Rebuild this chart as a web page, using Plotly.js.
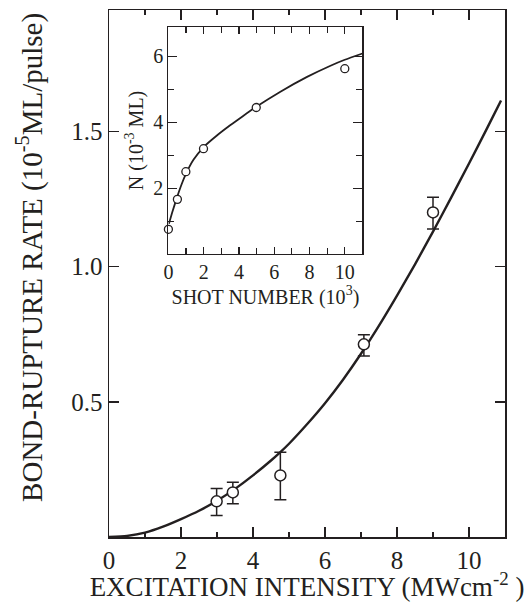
<!DOCTYPE html>
<html>
<head>
<meta charset="utf-8">
<script src="https://cdn.plot.ly/plotly-3.0.1.min.js"></script>
<style>
html,body{margin:0;padding:0;background:#fff;}
#chart{width:532px;height:602px;}
</style>
</head>
<body>
<div id="chart"></div>
<script>
// Main panel: measured points (excitation intensity, MW/cm^2 ; rate, 1e-5 ML/pulse)
var intensity = [2.99, 3.44, 4.76, 7.08, 9.00];
var rate = [0.132, 0.165, 0.228, 0.713, 1.201];
var rateErrPlus = [0.047, 0.038, 0.086, 0.035, 0.056];
var rateErrMinus = [0.052, 0.042, 0.090, 0.043, 0.061];

// Main panel: fitted curve
var fitIntensity = [0, 0.5, 1.0, 1.5, 2.0, 2.5, 3.0, 3.5, 4.0, 4.5, 4.76, 5.0, 5.5, 6.0, 6.5, 7.0, 7.5, 8.0, 8.5, 9.0, 9.5, 10.0, 10.5, 10.89];
var fitRate = [0, 0.004, 0.016, 0.038, 0.066, 0.097, 0.134, 0.178, 0.228, 0.283, 0.314, 0.345, 0.417, 0.495, 0.582, 0.678, 0.782, 0.893, 1.009, 1.130, 1.255, 1.382, 1.512, 1.615];

// Inset: N (1e-3 ML) vs shot number (1e3)
var shots = [0, 0.51, 0.99, 1.99, 4.98, 10.0];
var coverage = [0.75, 1.66, 2.50, 3.20, 4.45, 5.63];
var fitShots = [0.03, 0.25, 0.5, 0.75, 1.0, 1.42, 2.0, 2.75, 3.5, 4.2, 4.98, 6.35, 7.86, 9.19, 10.0, 11.0];
var fitCoverage = [0.92, 1.32, 1.74, 2.12, 2.44, 2.86, 3.25, 3.60, 3.91, 4.18, 4.47, 4.93, 5.38, 5.72, 5.90, 6.09];

// Texts
var xTitle = 'EXCITATION INTENSITY (MWcm<sup>-2</sup> )';
var yTitle = 'BOND-RUPTURE RATE (10<sup>-5</sup>ML/pulse)';
var insetXTitle = 'SHOT NUMBER (10<sup>3</sup>)';
var insetYTitle = 'N (10<sup>-3</sup> ML)';

var ink = '#231f20';
var fontFam = 'Liberation Serif, Times New Roman, serif';

var traces = [
  {x: fitIntensity, y: fitRate, xaxis: 'x', yaxis: 'y', mode: 'lines',
   line: {color: ink, width: 2.4, shape: 'spline', smoothing: 0.6}, hoverinfo: 'skip', showlegend: false},
  {x: intensity, y: rate, xaxis: 'x', yaxis: 'y', mode: 'markers',
   marker: {symbol: 'circle', size: 11, color: '#fff', line: {color: ink, width: 1.5}},
   error_y: {type: 'data', symmetric: false, array: rateErrPlus, arrayminus: rateErrMinus,
             color: ink, thickness: 1.5, width: 6}, showlegend: false},
  {x: fitShots, y: fitCoverage, xaxis: 'x2', yaxis: 'y2', mode: 'lines',
   line: {color: ink, width: 1.8, shape: 'spline', smoothing: 0.6}, hoverinfo: 'skip', showlegend: false},
  {x: shots, y: coverage, xaxis: 'x2', yaxis: 'y2', mode: 'markers', cliponaxis: false,
   marker: {symbol: 'circle', size: 8, color: '#fff', line: {color: ink, width: 1.3}}, showlegend: false}
];

var layout = {
  width: 532, height: 602,
  margin: {l: 109, r: 27, t: 10, b: 65},
  paper_bgcolor: '#fff', plot_bgcolor: 'rgba(0,0,0,0)',
  font: {family: fontFam, color: ink, size: 24},
  xaxis: {
    domain: [0, 1], anchor: 'y', range: [0, 11],
    tickmode: 'linear', tick0: 0, dtick: 2,
    ticks: 'inside', ticklen: 10, tickwidth: 1.3, tickcolor: ink, mirror: 'ticks',
    minor: {dtick: 1, tick0: 0, ticks: 'inside', ticklen: 5, tickwidth: 1.3, tickcolor: ink},
    showline: true, linecolor: ink, linewidth: 1.5, showgrid: false, zeroline: false,
    tickfont: {size: 25, family: fontFam, color: ink},
    title: {text: xTitle, font: {size: 27, family: fontFam, color: ink}, standoff: 4}
  },
  yaxis: {
    domain: [0, 1], anchor: 'x', range: [0, 1.95],
    tickmode: 'linear', tick0: 0, dtick: 0.5, tickformat: '.1f', labelalias: {'0.0': ''},
    ticks: 'inside', ticklen: 10, tickwidth: 1.3, tickcolor: ink, mirror: 'ticks',
    showline: true, linecolor: ink, linewidth: 1.5, showgrid: false, zeroline: false,
    tickfont: {size: 25, family: fontFam, color: ink}
  },
  xaxis2: {
    domain: [0.150, 0.640], anchor: 'y2', range: [0, 11],
    tickmode: 'linear', tick0: 0, dtick: 2,
    ticks: 'inside', ticklen: 7, tickwidth: 1.1, tickcolor: ink, mirror: 'ticks',
    minor: {dtick: 1, tick0: 0, ticks: 'inside', ticklen: 6, tickwidth: 1.1, tickcolor: ink},
    showline: true, linecolor: ink, linewidth: 1.2, showgrid: false, zeroline: false,
    tickfont: {size: 20, family: fontFam, color: ink},
    title: {text: insetXTitle, font: {size: 20, family: fontFam, color: ink}, standoff: 0}
  },
  yaxis2: {
    domain: [0.537, 0.968], anchor: 'x2', range: [0, 6.9],
    tickmode: 'linear', tick0: 0, dtick: 2, labelalias: {'0': ''},
    ticks: 'inside', ticklen: 9, tickwidth: 1.1, tickcolor: ink, mirror: 'ticks',
    minor: {dtick: 1, tick0: 0, ticks: 'inside', ticklen: 6, tickwidth: 1.1, tickcolor: ink},
    showline: true, linecolor: ink, linewidth: 1.2, showgrid: false, zeroline: false,
    tickfont: {size: 20, family: fontFam, color: ink},
    title: {text: insetYTitle, font: {size: 20, family: fontFam, color: ink}, standoff: 4}
  },
  annotations: [
    {text: yTitle, xref: 'paper', yref: 'paper', x: -0.199, y: 0.53,
     xanchor: 'center', yanchor: 'middle', textangle: -90, showarrow: false,
     font: {size: 29, family: fontFam, color: ink}}
  ]
};

Plotly.newPlot('chart', traces, layout, {displayModeBar: false, staticPlot: true});
</script>
</body>
</html>
